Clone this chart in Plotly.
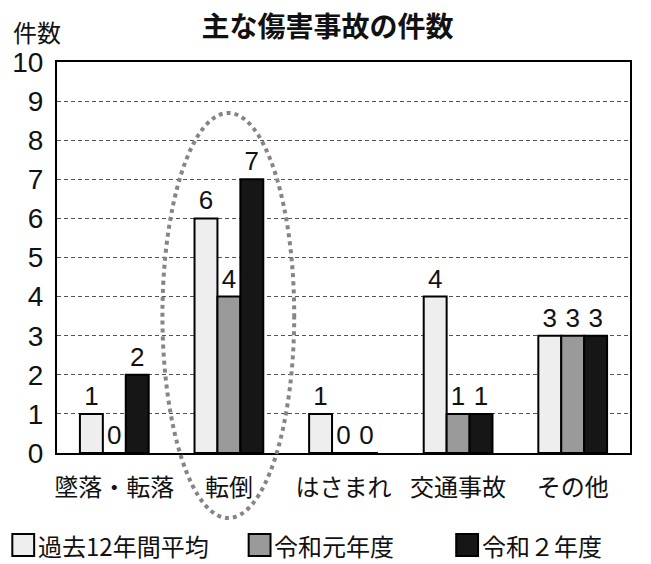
import plotly.graph_objects as go

# 傷害事故の分類
categories = ["墜落・転落", "転倒", "はさまれ", "交通事故", "その他"]

# 件数（過去12年間平均 / 令和元年度 / 令和2年度）
avg_12yr = [1, 6, 1, 4, 3]
reiwa1 = [0, 4, 0, 1, 3]
reiwa2 = [2, 7, 0, 1, 3]

series_names = ["過去12年間平均", "令和元年度", "令和２年度"]
series_values = [avg_12yr, reiwa1, reiwa2]
series_colors = ["#eeeeee", "#9a9a9a", "#161616"]

y_ticks = list(range(0, 11))

JP_FONT = "Noto Sans CJK JP"
NUM_FONT = "Liberation Sans"

W, H = 651, 564
M_L, M_R, M_T, M_B = 53, 21, 62, 111
PLOT_W = W - M_L - M_R
PLOT_H = H - M_T - M_B


def px_x(px):
    return (px - M_L) / PLOT_W


def px_y(py):
    return (H - M_B - py) / PLOT_H


fig = go.Figure()
for name, vals, color in zip(series_names, series_values, series_colors):
    fig.add_trace(go.Bar(
        x=categories,
        y=vals,
        name=name,
        marker=dict(color=color, line=dict(color="#000000", width=2)),
        text=vals,
        texttemplate="%{text}",
        textposition="outside",
        textfont=dict(family=NUM_FONT, size=26, color="#111111"),
        cliponaxis=False,
        showlegend=False,
    ))

fig.update_layout(
    width=W,
    height=H,
    margin=dict(l=M_L, r=M_R, t=M_T, b=M_B),
    paper_bgcolor="white",
    plot_bgcolor="white",
    barmode="group",
    bargap=0.40,
    bargroupgap=0,
    title=dict(
        text="主な傷害事故の件数",
        font=dict(family=JP_FONT, size=28, color="#111111", weight="bold"),
        x=0.503, xref="container", xanchor="center",
        y=1 - 27 / H, yref="container", yanchor="middle",
    ),
)

fig.update_xaxes(
    showline=True, linecolor="#000000", linewidth=2, mirror=True,
    showgrid=False, ticks="",
    tickfont=dict(family=JP_FONT, size=24, color="#111111"),
    ticklabelstandoff=12,
)
fig.update_yaxes(
    range=[0, 10],
    tickvals=y_ticks,
    ticktext=[str(v) for v in y_ticks],
    showline=True, linecolor="#000000", linewidth=2, mirror=True,
    showgrid=True, gridcolor="#555555", gridwidth=1, griddash="4px,3px",
    zeroline=False, ticks="",
    tickfont=dict(family=NUM_FONT, size=28, color="#111111"),
    ticklabelstandoff=6,
)

# 縦軸の単位
fig.add_annotation(
    text="件数", xref="paper", yref="paper",
    x=px_x(7), y=px_y(31), xanchor="left", yanchor="middle",
    showarrow=False, font=dict(family=JP_FONT, size=24, color="#111111"),
)

# 転倒を囲む点線の楕円
fig.add_shape(
    type="circle", xref="x", yref="paper",
    x0=0.42, x1=1.57, y0=px_y(518), y1=px_y(113),
    line=dict(color="#858585", width=4, dash="dot"),
    layer="above",
)

# 凡例（下部）
legend_left = [8, 246, 455]
box = 22
legend_cy = 545
for name, color, lx in zip(series_names, series_colors, legend_left):
    fig.add_shape(
        type="rect", xref="paper", yref="paper",
        x0=px_x(lx), x1=px_x(lx + box),
        y0=px_y(legend_cy + box / 2), y1=px_y(legend_cy - box / 2),
        fillcolor=color, line=dict(color="#000000", width=2),
    )
    fig.add_annotation(
        text=name, xref="paper", yref="paper",
        x=px_x(lx + box + 2), y=px_y(legend_cy),
        xanchor="left", yanchor="middle", showarrow=False,
        font=dict(family=JP_FONT, size=24, color="#111111"),
    )

fig.write_html("out.html")
